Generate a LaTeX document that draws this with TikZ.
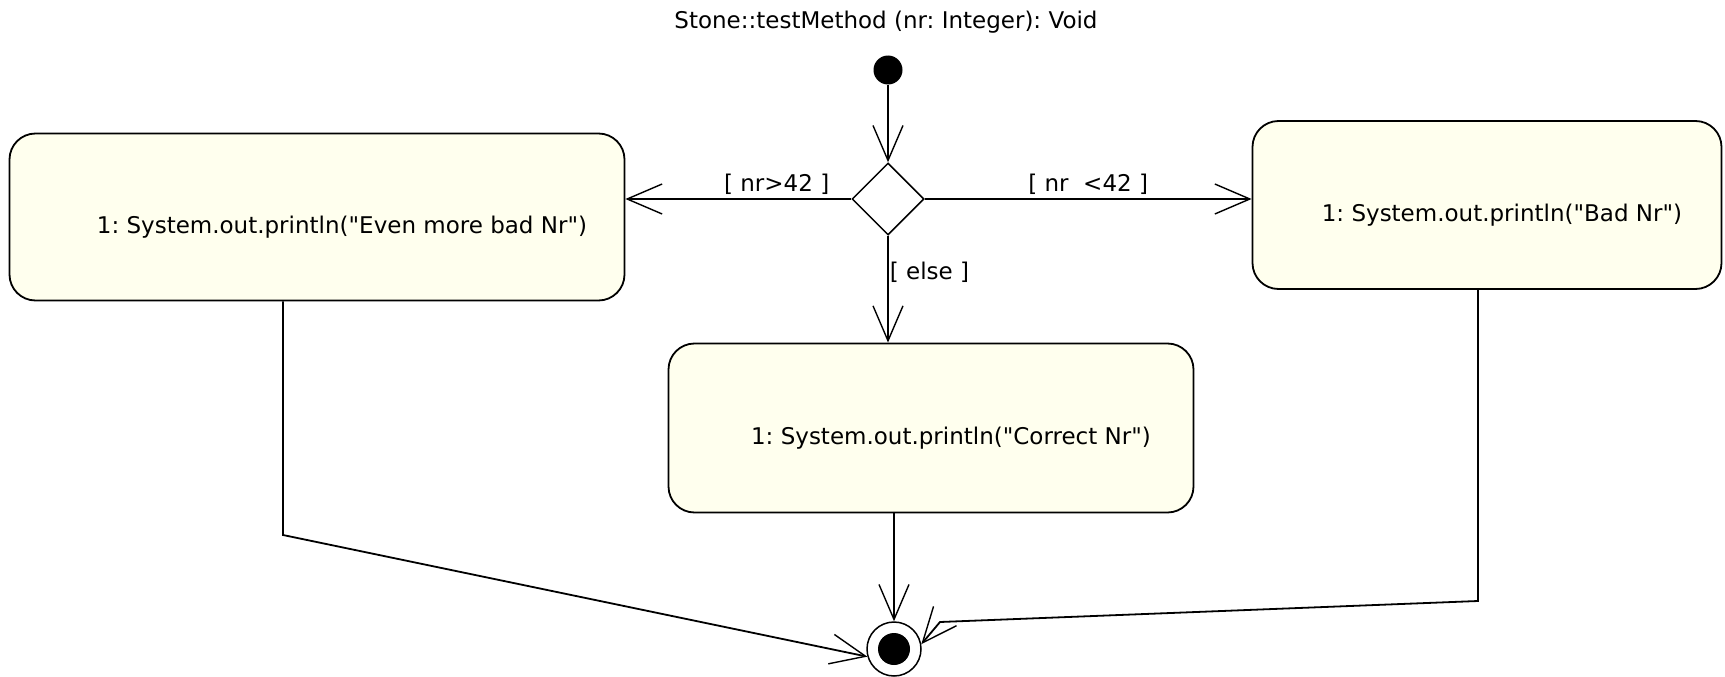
\documentclass[tikz,border=0pt]{standalone}
\usepackage{fontspec}
\setmainfont{DejaVu Sans}[Ligatures=TeXOff]
\frenchspacing
\usetikzlibrary{arrows.meta,shapes.geometric}
\definecolor{actfill}{RGB}{255,255,238}
\tikzset{
  every node/.style={font=\fontsize{23}{27}\selectfont},
  action/.style={draw, line width=1.8pt, fill=actfill, rounded corners=26pt, inner sep=0pt,
    text height=38pt, execute at begin node={\hspace*{#1}}},
  action/.default=0pt,
  flow/.style={line width=1.8pt, -{Straight Barb[length=35pt,width=30pt,line width=1.4pt]}},
  guard/.style={inner sep=4pt},
}
\begin{document}
\begin{tikzpicture}[x=1pt,y=-1pt]
  \useasboundingbox (0,0) rectangle (1725,677);
  \node (title) at (886,22) {Stone::testMethod (nr: Integer): Void};
  \node[circle, fill=black, minimum size=29pt, inner sep=0pt] (start) at (888,70) {};
  \node[diamond, draw, line width=1.5pt, aspect=1, minimum size=72pt, inner sep=0pt] (dec) at (888,199) {};
  \node[action=50pt, minimum width=615pt, minimum height=167pt] (lbox) at (317,217) {1: System.out.println("Even more bad Nr")};
  \node[action=30pt, minimum width=469pt, minimum height=168pt] (rbox) at (1487,205) {1: System.out.println("Bad Nr")};
  \node[action=40pt, minimum width=525pt, minimum height=169pt] (cbox) at (931,428) {1: System.out.println("Correct Nr")};
  \node[circle, draw, line width=1.5pt, minimum size=54pt, inner sep=0pt] (end) at (894,649) {};
  \fill (end.center) circle (16);
  \coordinate (lbend) at (283,535);
  \coordinate (rbend) at (1478,601);
  \coordinate (rknee) at (940,622);
  \draw[flow] (start) -- (dec.north);
  \draw[flow] (dec.west) -- (dec.west -| lbox.east) node[guard, pos=0.33, above] (g1) {[ nr>42 ]};
  \draw[flow] (dec.east) -- (dec.east -| rbox.west) node[guard, midway, above] (g2) {[ nr\ \ <42 ]};
  \draw[flow] (dec.south) -- (dec.south |- cbox.north) node[pos=0.34, right, inner sep=1pt] (g3) {[ else ]};
  \draw[flow] (lbox.south -| lbend) -- (lbend) -- (end.196);
  \draw[flow] (cbox.south -| end.north) -- (end.north);
  \draw[flow] (rbox.south -| rbend) -- (rbend) -- (rknee) -- (end.10);
\end{tikzpicture}
\end{document}
